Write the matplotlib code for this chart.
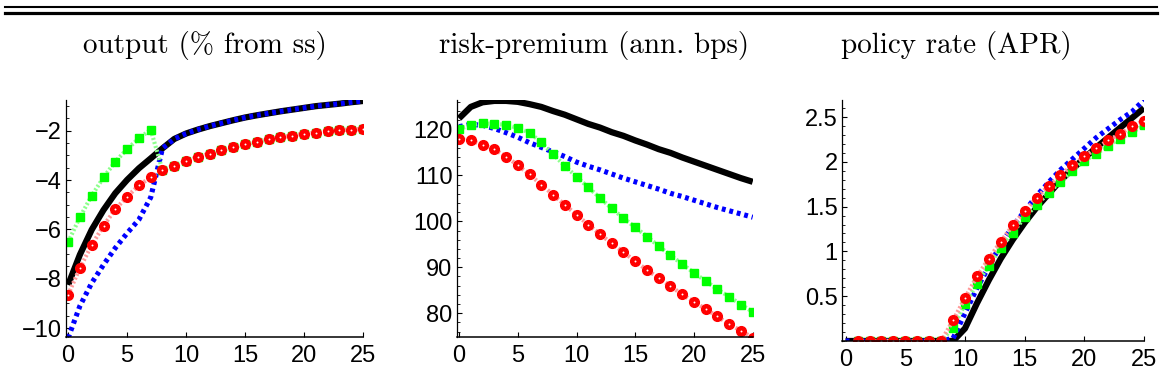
import matplotlib
matplotlib.use("Agg")
import matplotlib.pyplot as plt
from matplotlib.lines import Line2D
from matplotlib.ticker import AutoMinorLocator

# ---------------- data ----------------
periods = list(range(26))
periods_pr = list(range(1, 26))

titles = ["output (% from ss)", "risk-premium (ann. bps)", "policy rate (APR)"]

out_black = [-8.25, -7.02, -6.01, -5.21, -4.53, -3.99, -3.52, -3.12, -2.71, -2.33,
             -2.11, -1.95, -1.81, -1.69, -1.57, -1.46, -1.37, -1.29, -1.21, -1.14,
             -1.07, -1.00, -0.95, -0.90, -0.84, -0.79]
out_blue = [-10.4, -9.10, -8.17, -7.43, -6.75, -6.15, -5.60, -4.70, -2.71, -2.33,
            -2.11, -1.95, -1.81, -1.69, -1.57, -1.46, -1.37, -1.29, -1.21, -1.14,
            -1.07, -1.00, -0.95, -0.90, -0.84, -0.79]
out_green = [-6.51, -5.50, -4.63, -3.89, -3.25, -2.74, -2.31, -1.95, -3.60, -3.41,
             -3.23, -3.06, -2.92, -2.78, -2.66, -2.55, -2.44, -2.35, -2.27, -2.19,
             -2.12, -2.07, -2.01, -1.97, -1.95, -1.92]
out_red = [-8.64, -7.56, -6.63, -5.85, -5.18, -4.67, -4.21, -3.89, -3.60, -3.41,
           -3.23, -3.06, -2.92, -2.78, -2.66, -2.55, -2.44, -2.35, -2.27, -2.19,
           -2.12, -2.07, -2.01, -1.97, -1.95, -1.92]

rp_black = [122.4, 124.9, 125.9, 126.2, 126.2, 126.0, 125.5, 124.9, 124.0, 123.2,
            122.2, 121.2, 120.4, 119.4, 118.6, 117.6, 116.7, 115.7, 114.9, 113.9,
            113.0, 112.1, 111.2, 110.3, 109.4, 108.6]
rp_blue = [120.6, 121.1, 120.9, 120.2, 119.3, 118.3, 117.1, 116.1, 115.1, 114.1,
           112.9, 112.0, 111.2, 110.3, 109.4, 108.6, 107.8, 107.0, 106.1, 105.4,
           104.6, 103.8, 103.0, 102.3, 101.6, 100.9]
rp_green = [120.1, 120.9, 121.3, 121.2, 121.0, 120.3, 119.3, 117.2, 114.6, 112.1,
            109.7, 107.4, 105.1, 102.8, 100.7, 98.7, 96.7, 94.6, 92.6, 90.7,
            88.8, 87.0, 85.2, 83.6, 81.9, 80.3]
rp_red = [117.9, 117.6, 116.7, 115.7, 114.1, 112.2, 110.2, 108.0, 105.8, 103.6,
          101.4, 99.3, 97.2, 95.2, 93.3, 91.3, 89.4, 87.7, 85.9, 84.1,
          82.5, 80.9, 79.3, 77.6, 76.2, 74.7]

pr_black = [0, 0, 0, 0, 0, 0, 0, 0, 0, 0,
            0.14, 0.42, 0.68, 0.92, 1.13, 1.32, 1.49, 1.64, 1.79, 1.92,
            2.04, 2.16, 2.27, 2.38, 2.49, 2.60]
pr_blue = [0, 0, 0, 0, 0, 0, 0, 0, 0, 0.03,
           0.31, 0.59, 0.83, 1.08, 1.28, 1.45, 1.62, 1.77, 1.91, 2.03,
           2.15, 2.27, 2.37, 2.47, 2.56, 2.69]
pr_green = [0, 0, 0, 0, 0, 0, 0, 0,
            0.15, 0.41, 0.64, 0.84, 1.04, 1.21, 1.38, 1.52, 1.65, 1.78, 1.90,
            2.01, 2.09, 2.18, 2.26, 2.33, 2.41]
pr_red = [0, 0, 0, 0, 0, 0, 0, 0,
          0.23, 0.48, 0.72, 0.92, 1.11, 1.29, 1.45, 1.60, 1.73, 1.85, 1.96,
          2.06, 2.15, 2.24, 2.31, 2.40, 2.46]

xticks = [0, 5, 10, 15, 20, 25]
yticks_out = [-10, -8, -6, -4, -2]
yticks_rp = [80, 90, 100, 110, 120]
yticks_pr = [0.5, 1, 1.5, 2, 2.5]
yticklabels_pr = ["0.5", "1", "1.5", "2", "2.5"]

# ---------------- figure ----------------
W, H = 1162, 391
fig = plt.figure(figsize=(W / 100, H / 100), dpi=100)
plt.rcParams["font.family"] = ["Liberation Sans", "DejaVu Sans"]

def fx(px):
    return px / W

def fy(py):
    return 1 - py / H

# axes rectangles: (left, top, right, bottom) in pixels
rects = [(66, 100, 363, 337), (456.7, 100, 752.7, 336.7), (841.7, 100, 1144, 341)]
ylims = [(-10.36, -0.75), (74.9, 126.4), (0.0, 2.69)]
xlims = [(-0.18, 25), (-0.2, 25), (-0.33, 25)]
title_pos = [205, 594, 956]

series = [
    (periods, out_black, out_blue, periods, out_green, out_red, yticks_out, None, 4),
    (periods, rp_black, rp_blue, periods, rp_green, rp_red, yticks_rp, None, 5),
    (periods, pr_black, pr_blue, periods_pr, pr_green, pr_red, yticks_pr, yticklabels_pr, 5),
]

for i, (xs, yb, yu, xm, yg, yr, yt, ytl, nminor) in enumerate(series):
    l, t, r, b = rects[i]
    ax = fig.add_axes([fx(l), fy(b), fx(r) - fx(l), fy(t) - fy(b)])
    ax.plot(xs, yb, color="black", lw=4.5, solid_capstyle="butt", zorder=2)
    ax.plot(xs, yu, color="#0000ff", lw=3.7, linestyle=(0, (0.75, 0.75)),
            dash_capstyle="butt", zorder=3)
    ax.plot(xm, yg, color="#8cff8c", lw=3.0, linestyle=(0, (0.5, 0.5)), zorder=4)
    ax.plot(xm, yg, linestyle="none", marker="s", ms=6.0, color="#00ff00",
            mec="#00ff00", zorder=5)
    ax.plot(xm, yr, color="#ff9a9a", lw=3.0, linestyle=(0, (0.5, 0.5)), zorder=6)
    ax.plot(xm, yr, linestyle="none", marker="o", ms=7.0, color="#ff0000",
            mec="#ff0000", zorder=7)
    ax.plot(xm, yr, linestyle="none", marker="o", ms=1.4, color="white",
            mec="white", mew=0, zorder=8)
    ax.set_xlim(*xlims[i])
    ax.set_ylim(*ylims[i])
    ax.set_xticks(xticks)
    ax.set_yticks(yt)
    if ytl is not None:
        ax.set_yticklabels(ytl)
    ax.yaxis.set_minor_locator(AutoMinorLocator(nminor))
    for s in ["top", "right"]:
        ax.spines[s].set_visible(False)
    ax.spines["left"].set_linewidth(0.9)
    ax.spines["bottom"].set_linewidth(1.1)
    ax.tick_params(axis="both", which="major", direction="in", length=3.5,
                   width=0.8, labelsize=17, pad=3)
    ax.tick_params(axis="x", which="major", pad=6)
    ax.tick_params(axis="y", which="minor", direction="in", length=1.8, width=0.6)
    ax.set_facecolor("none")
    for sp in ax.spines.values():
        sp.set_zorder(10)

    fig.text(fx(title_pos[i]), fy(46), titles[i], ha="center", va="center",
             fontsize=21, family=["cmr10", "DejaVu Serif"])

# double rule at the top
fig.add_artist(Line2D([fx(5), fx(1157)], [fy(7.2), fy(7.2)], color="black", lw=1.5))
fig.add_artist(Line2D([fx(5), fx(1157)], [fy(13.3), fy(13.3)], color="black", lw=2.3))

fig.savefig("out.png", dpi=100)
